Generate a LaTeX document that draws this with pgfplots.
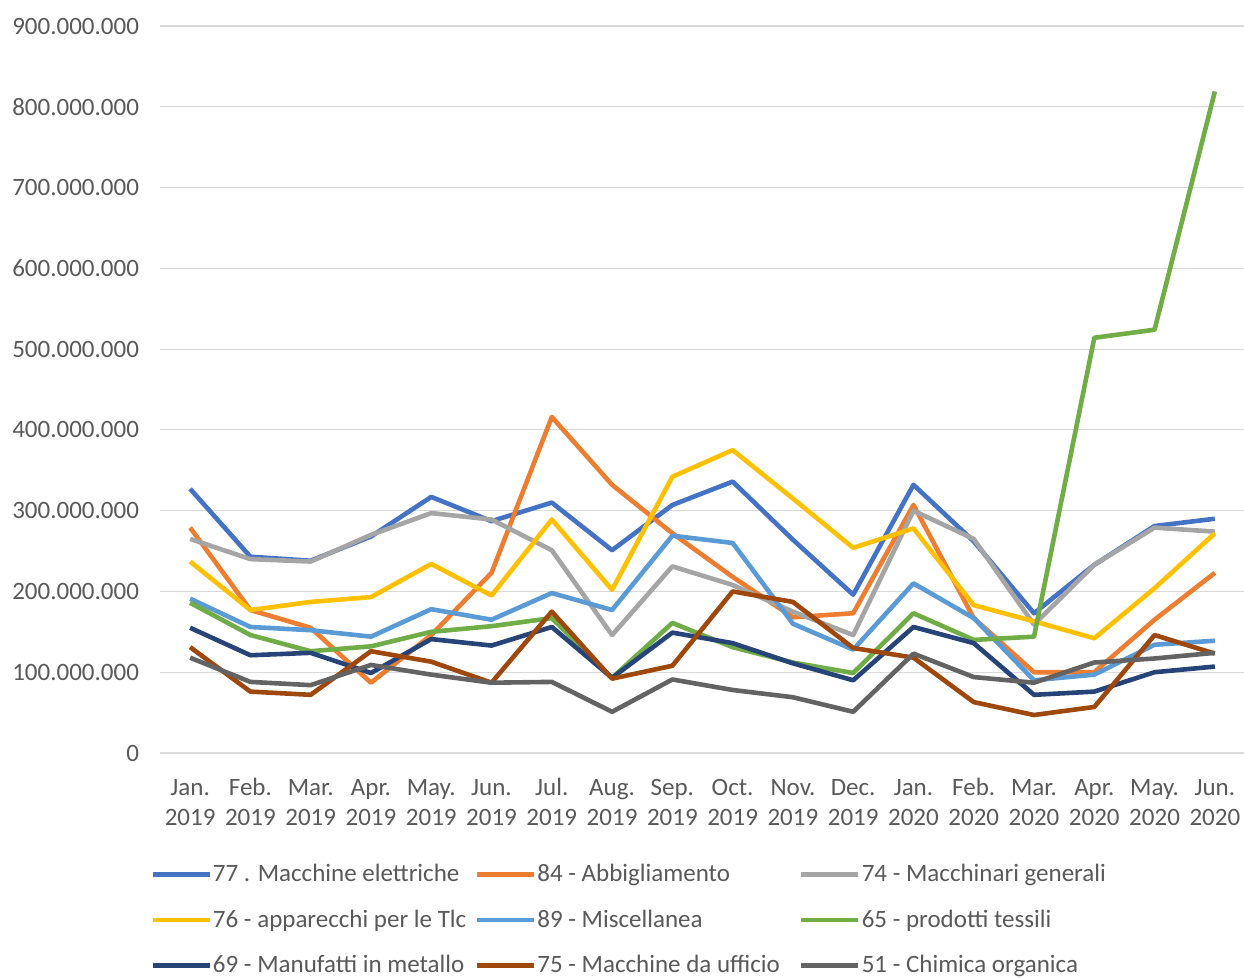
\documentclass[border=0pt]{standalone}
\usepackage{pgfplots}
\pgfplotsset{compat=1.18}
\usepackage{fontspec}
\setmainfont{Carlito}

\definecolor{cA}{HTML}{4472C4}
\definecolor{cB}{HTML}{ED7D31}
\definecolor{cC}{HTML}{A5A5A5}
\definecolor{cD}{HTML}{FFC000}
\definecolor{cE}{HTML}{5B9BD5}
\definecolor{cF}{HTML}{70AD47}
\definecolor{cG}{HTML}{264478}
\definecolor{cH}{HTML}{9E480E}
\definecolor{cI}{HTML}{636363}
\definecolor{txt}{HTML}{595959}
\definecolor{grd}{HTML}{D9D9D9}

% values in millions of euro
\newcommand{\lab}[1]{\hspace*{-1.5pt}\makebox[128.9pt][l]{#1}}
\newcommand{\tl}[2]{\strut#1\\\strut#2}

\begin{document}
\begin{tikzpicture}
\begin{axis}[
    scale only axis,
    width=542.5pt, height=363.5pt,
    xmin=-0.5, xmax=17.5,
    ymin=0, ymax=900,
    xtick={0,...,17},
    xticklabels={{\tl{Jan.}{2019}},{\tl{Feb.}{2019}},{\tl{Mar.}{2019}},{\tl{Apr.}{2019}},{\tl{May.}{2019}},{\tl{Jun.}{2019}},
                 {\tl{Jul.}{2019}},{\tl{Aug.}{2019}},{\tl{Sep.}{2019}},{\tl{Oct.}{2019}},{\tl{Nov.}{2019}},{\tl{Dec.}{2019}},
                 {\tl{Jan.}{2020}},{\tl{Feb.}{2020}},{\tl{Mar.}{2020}},{\tl{Apr.}{2020}},{\tl{May.}{2020}},{\tl{Jun.}{2020}}},
    ytick={0,100,...,900},
    yticklabels={0,100.000.000,200.000.000,300.000.000,400.000.000,500.000.000,600.000.000,700.000.000,800.000.000,900.000.000},
    major tick length=0pt,
    axis line style={draw=none},
    axis x line*=bottom,
    ymajorgrids=true,
    grid style={grd, line width=0.6pt},
    xticklabel style={align=center, font=\fontsize{12.5}{15}\selectfont, text=txt, yshift=-7pt},
    yticklabel style={font=\fontsize{12.5}{15}\selectfont, text=txt, xshift=-7pt},
    every axis plot/.append style={line width=2.3pt, line join=round, no markers},
    legend columns=3,
    legend cell align=left,
    legend style={at={(0,0)}, anchor=north west, xshift=-5pt, yshift=-53.5pt,
        draw=none, fill=none, inner sep=0pt,
        nodes={inner xsep=2pt},
        font=\fontsize{12.5}{15}\selectfont, text=txt, row sep=8.5pt},
    legend image code/.code={\draw[#1, line width=2.3pt] (0pt,0pt) -- (28.5pt,0pt);},
]
\draw[grd, line width=0.8pt] (axis cs:-0.5,0) -- (axis cs:17.5,0);

\addplot[cA] coordinates {(0,327)(1,243)(2,238)(3,268)(4,317)(5,287)(6,310)(7,251)(8,307)(9,336)(10,264)(11,196)(12,332)(13,262)(14,173)(15,233)(16,281)(17,290)};
\addlegendentry{\lab{77 . Macchine elettriche}}
\addplot[cB] coordinates {(0,279)(1,177)(2,155)(3,87)(4,146)(5,223)(6,416)(7,332)(8,272)(9,218)(10,168)(11,173)(12,307)(13,167)(14,100)(15,100)(16,165)(17,223)};
\addlegendentry{\lab{84 - Abbigliamento}}
\addplot[cC] coordinates {(0,265)(1,240)(2,237)(3,270)(4,297)(5,289)(6,251)(7,146)(8,231)(9,208)(10,175)(11,146)(12,300)(13,265)(14,159)(15,233)(16,279)(17,274)};
\addlegendentry{\lab{74 - Macchinari generali}}
\addplot[cD] coordinates {(0,237)(1,177)(2,187)(3,193)(4,234)(5,195)(6,289)(7,202)(8,342)(9,375)(10,315)(11,254)(12,278)(13,183)(14,163)(15,142)(16,204)(17,272)};
\addlegendentry{\lab{76 - apparecchi per le Tlc}}
\addplot[cE] coordinates {(0,191)(1,156)(2,152)(3,144)(4,178)(5,165)(6,198)(7,177)(8,269)(9,260)(10,160)(11,128)(12,210)(13,167)(14,90)(15,97)(16,134)(17,139)};
\addlegendentry{\lab{89 - Miscellanea}}
\addplot[cF] coordinates {(0,186)(1,146)(2,126)(3,132)(4,150)(5,157)(6,167)(7,93)(8,161)(9,131)(10,112)(11,99)(12,173)(13,140)(14,144)(15,514)(16,524)(17,819)};
\addlegendentry{\lab{65 - prodotti tessili}}
\addplot[cG] coordinates {(0,155)(1,121)(2,124)(3,99)(4,141)(5,133)(6,156)(7,93)(8,149)(9,136)(10,111)(11,90)(12,156)(13,136)(14,72)(15,76)(16,100)(17,107)};
\addlegendentry{\lab{69 - Manufatti in metallo}}
\addplot[cH] coordinates {(0,131)(1,76)(2,72)(3,126)(4,113)(5,87)(6,175)(7,92)(8,108)(9,200)(10,187)(11,130)(12,118)(13,63)(14,47)(15,57)(16,146)(17,123)};
\addlegendentry{\lab{75 - Macchine da ufficio}}
\addplot[cI] coordinates {(0,118)(1,88)(2,84)(3,109)(4,97)(5,87)(6,88)(7,51)(8,91)(9,78)(10,69)(11,51)(12,123)(13,94)(14,87)(15,112)(16,117)(17,124)};
\addlegendentry{\lab{51 - Chimica organica}}
\end{axis}
\pgfresetboundingbox
\path[use as bounding box] (-80pt,-112.5pt) rectangle (542pt,376.5pt);
\end{tikzpicture}
\end{document}
